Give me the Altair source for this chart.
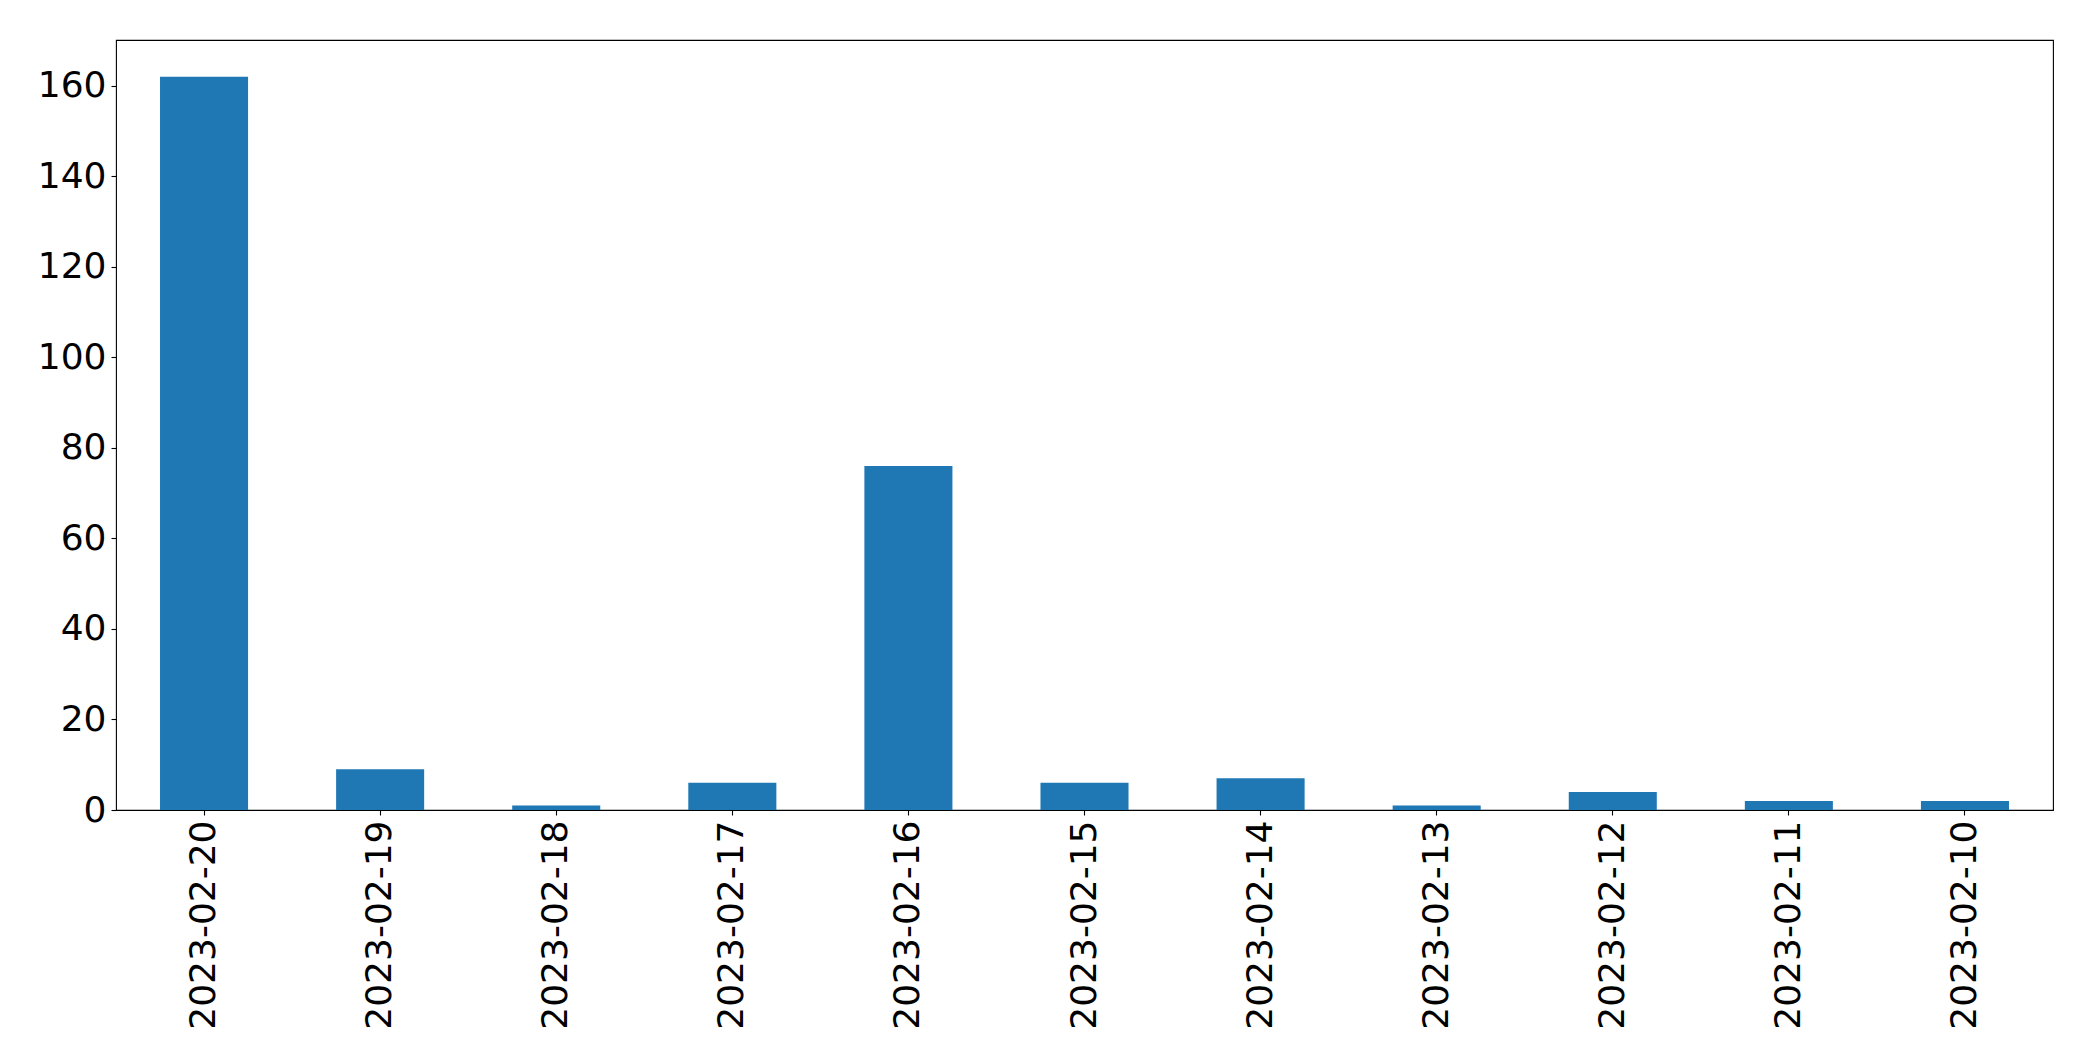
import altair as alt
import pandas as pd

dates = ["2023-02-20", "2023-02-19", "2023-02-18", "2023-02-17", "2023-02-16",
         "2023-02-15", "2023-02-14", "2023-02-13", "2023-02-12", "2023-02-11", "2023-02-10"]
counts = [162, 9, 1, 6, 76, 6, 7, 1, 4, 2, 2]
y_ticks = [0, 20, 40, 60, 80, 100, 120, 140, 160]

df = pd.DataFrame({"date": dates, "count": counts})

chart = alt.Chart(df).mark_bar(color="#1f77b4").encode(
    x=alt.X("date:N", sort=None,
            scale=alt.Scale(paddingInner=0.5, paddingOuter=0.25),
            axis=alt.Axis(title=None, labelAngle=270, labelFontSize=36, labelFont="DejaVu Sans",
                          labelColor="black", tickColor="black", tickSize=5, tickWidth=1.1,
                          labelPadding=5, labelLimit=0, domain=False, grid=False)),
    y=alt.Y("count:Q",
            scale=alt.Scale(domain=[0, 170.1], nice=False, zero=True),
            axis=alt.Axis(title=None, values=y_ticks, labelFontSize=36, labelFont="DejaVu Sans",
                          labelColor="black", tickColor="black", tickSize=5, tickWidth=1.1,
                          labelPadding=5, domain=False, grid=False)),
).properties(
    width=1937,
    height=770,
    background="white",
    autosize=alt.AutoSizeParams(type="none"),
    padding={"left": 108, "top": 32, "right": 30, "bottom": 240},
).configure_view(
    stroke="black", strokeWidth=1.1
)

chart.save("out.html", embed_options={"renderer": "svg", "actions": False})
